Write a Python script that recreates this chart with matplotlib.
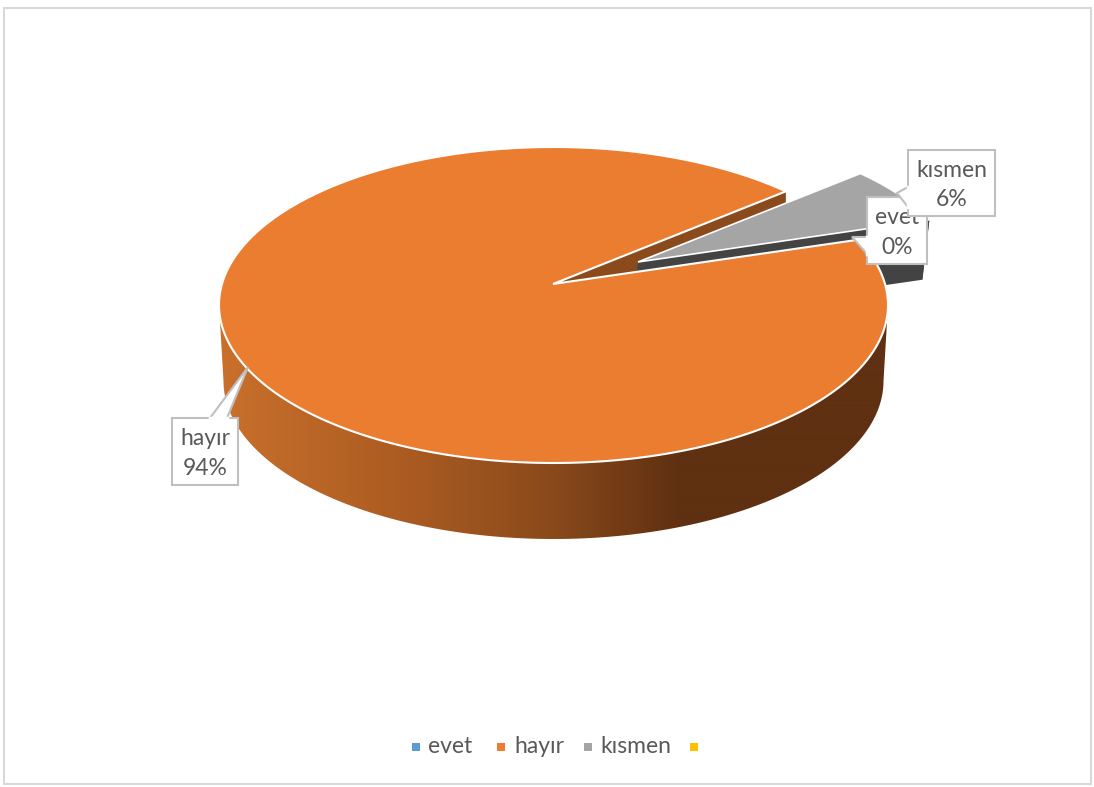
import numpy as np
import matplotlib
matplotlib.use("Agg")
import matplotlib.pyplot as plt
from matplotlib.patches import Polygon, Rectangle

plt.rcParams['font.family'] = ['Lato', 'DejaVu Sans']

# data
names = ['evet', 'hayır', 'kısmen', '']
values = [0, 94, 6, 0]
legend_colors = ['#5B9BD5', '#ED7D31', '#A5A5A5', '#FFC000']
start_angle = 46.0

text_col = '#595959'
box_col = '#BFBFBF'

# pie geometry, in pixels of the picture
cx, cy, a, b = 553.5, 305., 334.5, 158.
apex = np.array([553., 284.])
depth = 76.
shift = np.array([85., -22.])
pull = 0.955


def ell(t, a_=a, cy_=cy):
    t = np.radians(t)
    return np.column_stack([cx + a_ * np.cos(t), cy_ - b * np.sin(t)])


def callout(ax, box, tip, base1, base2, txt, z):
    x0, y0, x1, y1 = box
    ax.add_patch(Rectangle((x0, y0), x1 - x0, y1 - y0, fc='white', ec=box_col, lw=1.5, zorder=z))
    ax.add_patch(Polygon([base1, tip, base2], closed=False, fc='white', ec=box_col, lw=1.5, zorder=z + 0.1))
    # hide the box edge under the pointer
    ax.plot([base1[0], base2[0]], [base1[1], base2[1]], color='white', lw=2.5, zorder=z + 0.2)
    ax.text((x0 + x1) / 2, (y0 + y1) / 2 + 2, txt, ha='center', va='center', fontsize=16.5,
            color=text_col, linespacing=1.5, zorder=z + 0.3)


fig = plt.figure(figsize=(10.94, 7.87), dpi=100)
ax = fig.add_axes([0, 0, 1, 1])
ax.set_xlim(0, 1094)
ax.set_ylim(787, 0)
ax.axis('off')

ax.add_patch(Rectangle((4, 8), 1087, 776, fc='white', ec='#D9D9D9', lw=1.5, zorder=0))

total = sum(values)
orange_end = start_angle + 360. * values[1] / total
grey_end = orange_end + 360. * values[2] / total

# cut face of the big slice
p0 = ell(start_angle)[0]
ax.add_patch(Polygon([apex, p0, p0 + [0, depth], apex + [0, depth]], fc='#8A4A1B', ec='none', zorder=1))

# pulled out slice: cut face and rim, then the top
arc = apex + pull * (ell(np.linspace(orange_end, grey_end, 60)) - apex) + shift
grey_top = np.vstack([apex + shift, arc])
low = [-7, 60]
ax.add_patch(Polygon([apex + shift, arc[0], arc[0] + low, apex + shift + low], fc='#434343', ec='none', zorder=2))
ax.add_patch(Polygon(np.vstack([arc, (arc + low)[::-1]]), fc='#434343', ec='none', zorder=2))
ax.add_patch(Polygon(grey_top, fc=legend_colors[2], ec='white', lw=1.2, zorder=3))

# side of the big slice, gradient from left to right
t_side = np.linspace(180, 360, 200)
side = np.vstack([ell(t_side), ell(t_side[::-1], 330., cy + depth)])
grad_x = np.arange(215, 892)
stops_x = [219, 400, 550, 680, 890]
stops = np.array([[201, 112, 44], [172, 92, 34], [138, 74, 27], [95, 48, 17], [95, 48, 17]]) / 255.
grad = np.stack([np.interp(grad_x, stops_x, stops[:, i]) for i in range(3)], axis=-1)[None, :, :]
im = ax.imshow(grad, extent=[215, 892, 545, 300], aspect='auto', zorder=4, interpolation='bilinear')
ax.set_xlim(0, 1094)
ax.set_ylim(787, 0)
im.set_clip_path(Polygon(side, transform=ax.transData))

# top of the big slice
top = np.vstack([apex, ell(np.linspace(start_angle, orange_end, 400))])
ax.add_patch(Polygon(top, fc='#EB7D31', ec='white', lw=1.5, zorder=5))

# labels
callout(ax, (172, 418, 238, 485), (248, 367), (210, 418), (227, 418), f'{names[1]}\n{values[1]}%', 6)
callout(ax, (867, 197, 927, 264), (852, 237), (867, 237), (867, 254), f'{names[0]}\n{values[0]}%', 7)
callout(ax, (908, 150, 995, 216), (897, 193), (908, 187), (908, 207), f'{names[2]}\n{values[2]}%', 8)

# legend
legend_x = [415.5, 501, 588, 694]
legend_text_x = [428, 514.5, 600, 708]
for name, col, x, tx in zip(names, legend_colors, legend_x, legend_text_x):
    ax.add_patch(Rectangle((x - 4, 742.5), 8, 8, fc=col, ec='none', zorder=3))
    ax.text(tx, 746.5, name, ha='left', va='center', fontsize=16.5, color=text_col)

fig.savefig('out.png', dpi=100)
